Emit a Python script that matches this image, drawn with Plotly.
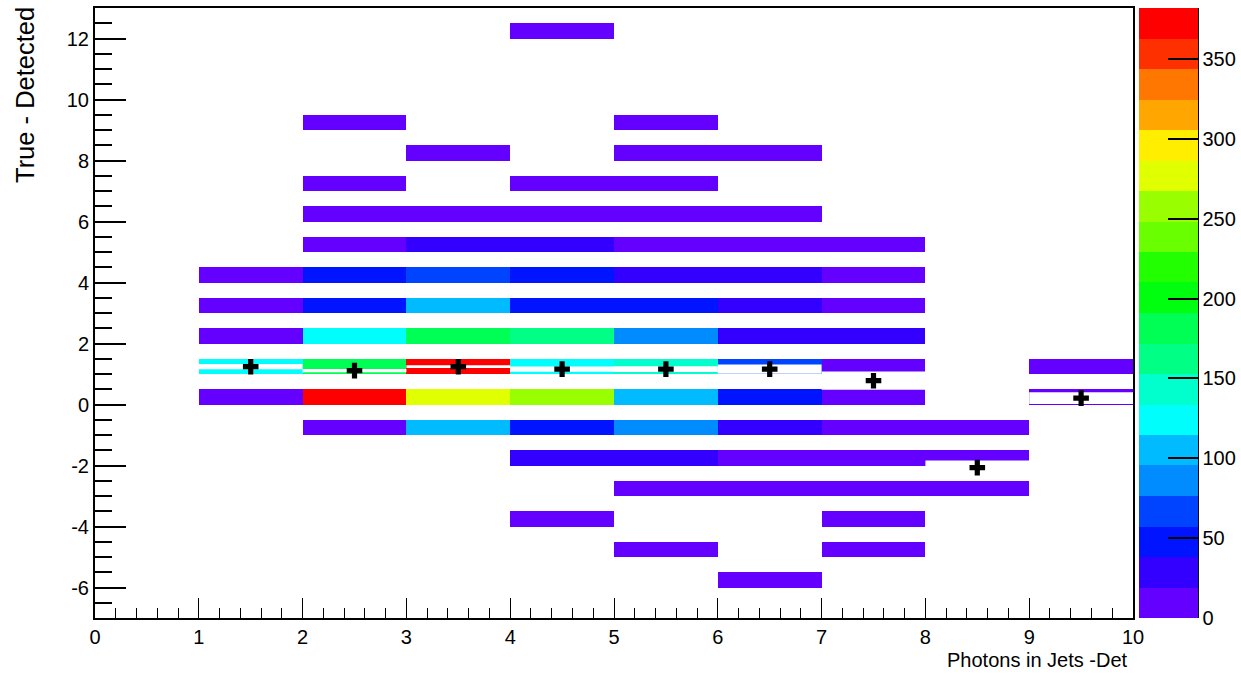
import colorsys
import plotly.graph_objects as go

# ---------------- data ----------------
x_edges = list(range(0, 11))                 # Photons in Jets - Det bins
y_edges = [-7 + 0.5 * i for i in range(41)]  # True - Detected bins (0.5 wide)

# cell counts per row (row label = lower edge of the 0.5-wide y bin), columns = x bins 0..9
N = None
row_12 = [N, N, N, N, 4, N, N, N, N, N]
row_9 = [N, N, 3, N, N, 2, N, N, N, N]
row_8 = [N, N, N, 2, N, 5, 3, N, N, N]
row_7 = [N, N, 6, N, 4, 3, N, N, N, N]
row_6 = [N, N, 8, 12, 10, 9, 5, N, N, N]
row_5 = [N, N, 14, 27, 30, 16, 12, 6, N, N]
row_4 = [N, 7, 47, 64, 45, 30, 26, 11, N, N]
row_3 = [N, 9, 44, 106, 48, 46, 29, 13, N, N]
row_2 = [N, 12, 124, 180, 163, 86, 31, 25, N, N]
row_1 = [N, 124, 182, 382, 125, 144, 66, 10, N, 3]
row_0 = [N, 10, 371, 277, 258, 104, 47, 15, N, 2]
row_m1 = [N, N, 8, 104, 49, 85, 33, 12, 6, N]
row_m2 = [N, N, N, N, 29, 24, 17, 9, 4, N]
row_m3 = [N, N, N, N, N, 7, 11, 6, 3, N]
row_m4 = [N, N, N, N, 3, N, N, 2, N, N]
row_m5 = [N, N, N, N, N, 2, N, 3, N, N]
row_m6 = [N, N, N, N, N, N, 1, N, N, N]

rows = {12: row_12, 9: row_9, 8: row_8, 7: row_7, 6: row_6, 5: row_5, 4: row_4,
        3: row_3, 2: row_2, 1: row_1, 0: row_0, -1: row_m1, -2: row_m2,
        -3: row_m3, -4: row_m4, -5: row_m5, -6: row_m6}

# profile (mean of True-Detected per x bin) and its error
prof_x = [1.5, 2.5, 3.5, 4.5, 5.5, 6.5, 7.5, 8.5, 9.5]
prof_mean = [1.24, 1.11, 1.24, 1.16, 1.16, 1.16, 0.78, -2.07, 0.21]
prof_err = [0.085, 0.055, 0.045, 0.087, 0.098, 0.148, 0.30, 0.23, 0.19]

z_max = 382
n_levels = 20
cbar_ticks = [0, 50, 100, 150, 200, 250, 300, 350]
x_ticks = list(range(0, 11))
y_ticks = [-6, -4, -2, 0, 2, 4, 6, 8, 10, 12]

# ---------------- build ----------------
z = [[None] * 10 for _ in range(40)]
for y0, vals in rows.items():
    iy = int(round((y0 + 7) / 0.5))
    z[iy] = vals

# ROOT "pretty palette" (HLS hue 280 -> 0), 20 contour levels
def root_color(k):
    j = int((k + 0.99) * 50 / n_levels)
    hue = 280 - (j + 1) * (280 / 50)
    r, g, b = colorsys.hls_to_rgb(hue / 360.0, 0.5, 1.0)
    return "rgb(%d,%d,%d)" % (round(r * 255), round(g * 255), round(b * 255))

colorscale = []
for k in range(n_levels):
    c = root_color(k)
    colorscale.append([k / n_levels, c])
    colorscale.append([(k + 1) / n_levels, c])

fnt = "Liberation Sans, Arial, sans-serif"

fig = go.Figure()
fig.add_trace(go.Heatmap(
    x=x_edges, y=y_edges, z=z,
    zmin=0, zmax=z_max, colorscale=colorscale,
    hoverongaps=False,
    colorbar=dict(
        thickness=59, len=1, lenmode="fraction", y=0.5, yanchor="middle",
        x=1.0058, xanchor="left", xpad=0, ypad=0,
        outlinewidth=0,
        tickmode="array", tickvals=cbar_ticks, ticktext=[str(v) for v in cbar_ticks],
        ticks="inside", ticklen=30, tickwidth=2, tickcolor="black",
        tickfont=dict(family=fnt, size=20, color="black"),
    ),
))

# white error boxes of the profile
fig.add_trace(go.Bar(
    x=prof_x,
    y=[2 * e for e in prof_err],
    base=[m - e for m, e in zip(prof_mean, prof_err)],
    width=1, marker=dict(color="white", line=dict(width=0)),
    hoverinfo="skip", showlegend=False,
))

fig.add_trace(go.Scatter(
    x=prof_x, y=prof_mean, mode="markers",
    marker=dict(symbol="cross", size=13, color="black", line=dict(width=0)),
    showlegend=False,
))

fig.update_layout(
    width=1241, height=675,
    margin=dict(l=95, r=108, t=8, b=57, autoexpand=False),
    paper_bgcolor="white", plot_bgcolor="white",
    showlegend=False,
    font=dict(family=fnt, size=20, color="black"),
    xaxis=dict(
        range=[0, 10], tickmode="array", tickvals=x_ticks,
        ticktext=[str(v) for v in x_ticks],
        ticks="inside", ticklen=20, tickwidth=1, tickcolor="black",
        minor=dict(dtick=0.2, ticks="inside", ticklen=10, tickcolor="black"),
        showgrid=False, zeroline=False,
        showline=True, linecolor="black", linewidth=2, mirror=True,
        tickfont=dict(family=fnt, size=20),
    ),
    yaxis=dict(
        range=[-7, 13], tickmode="array", tickvals=y_ticks,
        ticktext=[str(v) for v in y_ticks],
        ticks="inside", ticklen=31, tickwidth=2, tickcolor="black",
        minor=dict(tickmode="linear", tick0=0, dtick=0.5, ticks="inside",
                   ticklen=17, tickcolor="black", tickwidth=2),
        showgrid=False, zeroline=False,
        showline=True, linecolor="black", linewidth=2, mirror=True,
        tickfont=dict(family=fnt, size=20),
    ),
    annotations=[
        dict(text="Photons in Jets -Det", xref="paper", yref="paper",
             x=1, y=0, xanchor="right", yanchor="top", xshift=-3, yshift=-29,
             showarrow=False, font=dict(family=fnt, size=20)),
        dict(text="True - Detected", xref="paper", yref="paper",
             x=0, y=1, xanchor="center", yanchor="top", xshift=-70, yshift=3,
             textangle=-90, showarrow=False,
             font=dict(family=fnt, size=25.5)),
    ],
    shapes=[
        dict(type="line", xref="paper", yref="paper", x0=1.0626, x1=1.0626,
             y0=0, y1=1, line=dict(color="black", width=2)),
    ],
)

# remove the default 8px page margin so the figure fills the window exactly
fig.write_html(
    "out.html",
    config={"displayModeBar": False},
    post_script="document.body.style.margin='0';document.body.style.overflow='hidden';",
)
